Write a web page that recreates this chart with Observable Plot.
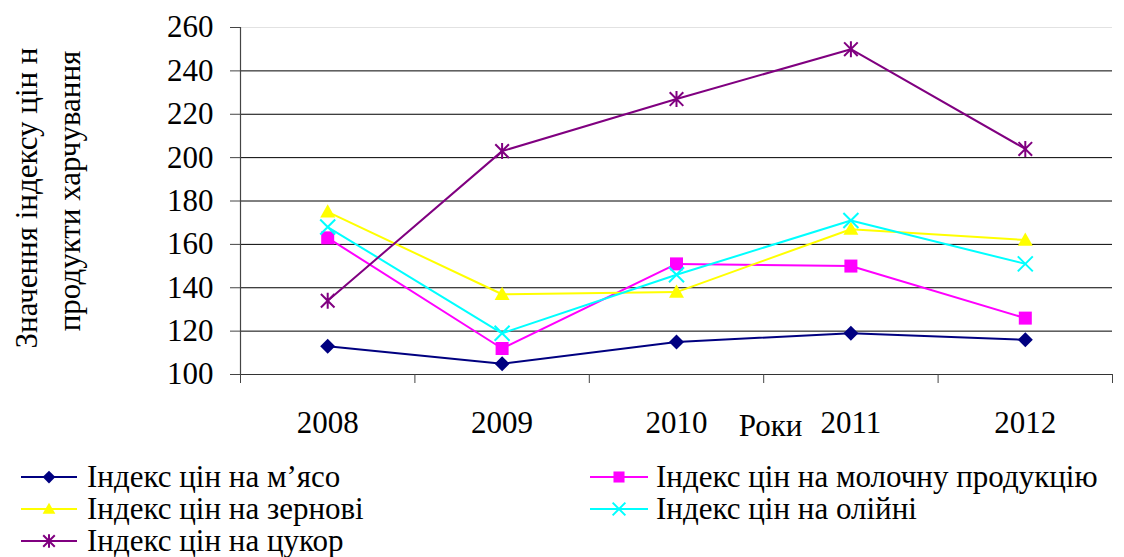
<!DOCTYPE html>
<html>
<head>
<meta charset="utf-8">
<script src="https://cdn.jsdelivr.net/npm/d3@7"></script>
<script src="https://cdn.jsdelivr.net/npm/@observablehq/plot@0.6"></script>
<style>
  html, body { margin: 0; padding: 0; background: #fff; }
  #chart { width: 1124px; height: 557px; overflow: hidden; }
  svg { display: block; }
  #chart svg text { font-family: "Liberation Serif", "DejaVu Serif", "Noto Serif", "Times New Roman", Times, serif !important; }
</style>
</head>
<body>
<div id="chart"></div>
<script>
// ---- data ----
const years = [2008, 2009, 2010, 2011, 2012];
const seriesNames = [
  "Індекс цін на м’ясо",
  "Індекс цін на молочну продукцію",
  "Індекс цін на зернові",
  "Індекс цін на олійні",
  "Індекс цін на цукор"
];
const meat  = [113, 105, 115, 119, 116];
const dairy = [163, 112, 151, 150, 126];
const grain = [175, 137, 138, 167, 162];
const oil   = [168, 119, 146, 171, 151];
const sugar = [134, 203, 227, 250, 204];
const yTicks = [100, 120, 140, 160, 180, 200, 220, 240, 260];
const yTitle = ["Значення індексу цін н", "продукти харчування"];
const xTitle = "Роки";

// ---- styles ----
const colors = ["#000080", "#FF00FF", "#FFFF00", "#00FFFF", "#800080"];
const font = "Liberation Serif, DejaVu Serif, Noto Serif, Times New Roman, serif";
const fs = 31;

const rad = s => Math.sqrt(s / Math.PI);
const symDiamond = { draw(c, s) { const r = rad(s); c.moveTo(0, -r); c.lineTo(r, 0); c.lineTo(0, r); c.lineTo(-r, 0); c.closePath(); } };
const symSquare = { draw(c, s) { const r = rad(s); c.rect(-r, -r, 2 * r, 2 * r); } };
const symTriangle = { draw(c, s) { const r = rad(s); c.moveTo(0, -r); c.lineTo(r, r * 0.75); c.lineTo(-r, r * 0.75); c.closePath(); } };
const symTimes = { draw(c, s) { const r = rad(s); c.moveTo(-r, -r); c.lineTo(r, r); c.moveTo(-r, r); c.lineTo(r, -r); } };
const symStar = { draw(c, s) { const r = rad(s); const d = r * 0.85; c.moveTo(-d, -d); c.lineTo(d, d); c.moveTo(-d, d); c.lineTo(d, -d); c.moveTo(0, -r); c.lineTo(0, r); } };
const symbols = [symDiamond, symSquare, symTriangle, symTimes, symStar];
const filled = [true, true, true, false, false];
const radii = [7.5, 6.5, 7.5, 7.5, 8];

const valuesBySeries = [meat, dairy, grain, oil, sugar];
const rows = [];
seriesNames.forEach((name, i) => years.forEach((yr, j) => rows.push({ series: name, year: yr, value: valuesBySeries[i][j] })));

const xDomain = [years[0] - 0.5, years[years.length - 1] + 0.5];
const boundaries = [...years.map(y => y - 0.5), years[years.length - 1] + 0.5];

const dotMarks = seriesNames.map((name, i) => Plot.dot(rows.filter(d => d.series === name), {
  x: "year", y: "value", r: radii[i], symbol: symbols[i],
  fill: filled[i] ? colors[i] : "none",
  stroke: filled[i] ? "none" : colors[i],
  strokeWidth: 2
}));

const chart = Plot.plot({
  width: 1124,
  height: 450,
  marginLeft: 240,
  marginRight: 12,
  marginTop: 27,
  marginBottom: 76,
  style: { fontFamily: font, fontSize: fs + "px", color: "black", background: "white", overflow: "visible" },
  x: { type: "linear", domain: xDomain },
  y: { domain: [yTicks[0], yTicks[yTicks.length - 1]] },
  color: { domain: seriesNames, range: colors },
  marks: [
    Plot.ruleY(yTicks.slice(1, -1), { stroke: "black", strokeWidth: 1 }),
    Plot.ruleY(yTicks.slice(-1), { stroke: "#e2e2e2", strokeWidth: 1 }),
    Plot.ruleY(yTicks.slice(0, 1), { stroke: "#333", strokeWidth: 1 }),
    Plot.ruleX(xDomain.slice(0, 1), { stroke: "#444", strokeWidth: 1.2 }),
    Plot.axisY({ ticks: yTicks, tickSize: 10, tickPadding: 17, tickFormat: d => String(d), label: null, stroke: "#444", fill: "black", fontSize: fs, fontFamily: font }),
    Plot.axisX({ ticks: boundaries, tickSize: 9, tickFormat: () => "", label: null, stroke: "#444" }),
    Plot.axisX({ ticks: years, tickSize: 0, tickPadding: 36, tickFormat: d => String(d), label: null, fill: "black", fontSize: fs, fontFamily: font }),
    Plot.text([xTitle], { text: d => d, frameAnchor: "bottom", lineAnchor: "middle", textAnchor: "middle", dx: 94, dy: 52, fontSize: fs, fontFamily: font, fill: "black" }),
    Plot.text([yTitle[0]], { text: d => d, frameAnchor: "left", rotate: -90, lineAnchor: "middle", textAnchor: "middle", dx: -213, dy: -3, fontSize: fs, fontFamily: font, fill: "black" }),
    Plot.text([yTitle[1]], { text: d => d, frameAnchor: "left", rotate: -90, lineAnchor: "middle", textAnchor: "middle", dx: -170, dy: -10, fontSize: fs, fontFamily: font, fill: "black" }),
    Plot.line(rows, { x: "year", y: "value", z: "series", stroke: "series", strokeWidth: 2 }),
    ...dotMarks
  ]
});
document.getElementById("chart").appendChild(chart);

// ---- legend (below the plot) ----
const legend = d3.create("svg").attr("width", 1124).attr("height", 107)
  .attr("font-family", font).attr("font-size", fs).style("overflow", "visible");
seriesNames.forEach((name, i) => {
  const col = i % 2, row = Math.floor(i / 2);
  const x0 = col ? 590 : 21, x1 = col ? 648 : 77, tx = col ? 656 : 87;
  const ly = 27 + row * 32;
  const g = legend.append("g");
  g.append("line").attr("x1", x0).attr("x2", x1).attr("y1", ly).attr("y2", ly)
    .attr("stroke", colors[i]).attr("stroke-width", 2);
  g.append("path")
    .attr("d", d3.symbol(symbols[i], Math.PI * Math.pow(radii[i] * 0.85, 2))())
    .attr("transform", `translate(${(x0 + x1) / 2},${ly})`)
    .attr("fill", filled[i] ? colors[i] : "none")
    .attr("stroke", filled[i] ? "none" : colors[i])
    .attr("stroke-width", 2);
  g.append("text").attr("x", tx).attr("y", ly + 10).attr("fill", "black")
    .attr("font-family", font).attr("font-size", fs).text(name);
});
document.getElementById("chart").appendChild(legend.node());
</script>
</body>
</html>
